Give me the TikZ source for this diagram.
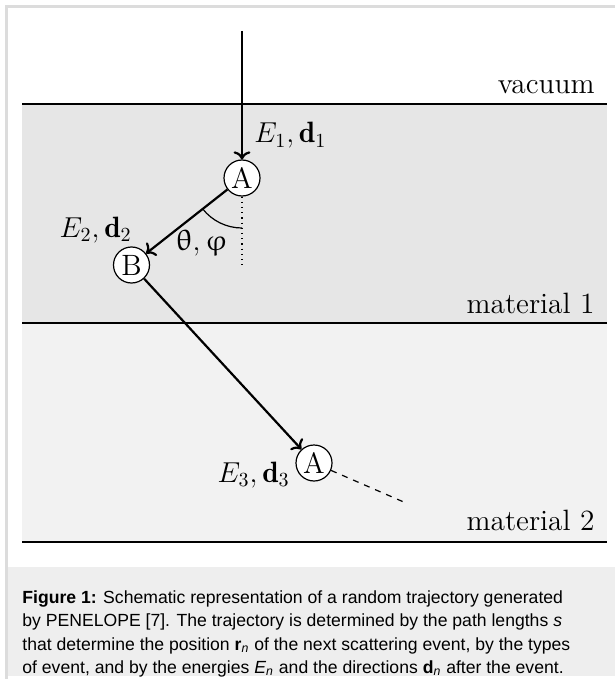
\documentclass[tikz,border=0pt]{standalone}
\usepackage{amsmath,amssymb}
\usepackage{upgreek}
\usepackage{fontspec}
\newfontfamily\capfont{Liberation Sans}
\usetikzlibrary{arrows.meta,positioning,calc}
\definecolor{ink}{HTML}{000000}
\definecolor{frame1}{HTML}{DCDCDC}
\definecolor{grey1}{HTML}{E6E6E6}
\definecolor{grey2}{HTML}{F2F2F2}
\definecolor{grey3}{HTML}{EEEEEE}
\begin{document}
\begin{tikzpicture}[x=0.5pt, y=0.5pt, font=\fontsize{14.7}{17}\selectfont,
  bound/.style={ink, line width=0.75pt},
  event/.style={circle, draw=ink, fill=white, line width=0.6pt, minimum size=18pt, inner sep=0pt},
  traj/.style={->, ink, line width=1.1pt},
  thin/.style={ink, line width=0.6pt},
  lbl/.style={inner sep=0pt}]
  \useasboundingbox (0,0) rectangle (615,-679);
  \draw[frame1, line width=1.2pt] (6.5,-679) -- (6.5,-6.5) -- (615,-6.5);
  \fill[grey1] (22,-104) rectangle (607,-323);
  \fill[grey2] (22,-323) rectangle (607,-542);
  \fill[grey3] (7.8,-567) rectangle (615,-676);
  \draw[bound] (22,-104) -- (607,-104); \draw[bound] (22,-323) -- (607,-323); \draw[bound] (22,-542) -- (607,-542);
  \node[lbl, anchor=base east] (vac) at (595,-94) {vacuum};
  \node[lbl, anchor=base east] (mat1) at (595,-313) {material 1};
  \node[lbl, anchor=base east] (mat2) at (595,-530) {material 2};
  \coordinate (src) at (242,-31);
  \node[event] (A1) at (242,-178) {A};
  \node[event] (B) at (131.5,-265) {B};
  \node[event] (A3) at (314,-463) {A};
  \coordinate (vert) at (242,-267);
  \coordinate (exit) at (406,-503);
  \draw[traj] (src) -- (A1); \draw[traj] (A1) -- (B); \draw[traj] (B) -- (A3);
  \draw[thin, dotted] (A1) -- (vert);
  \draw[thin, dashed] (A3) -- (exit);
  \draw[thin] ([shift={(218.2:25pt)}]A1.center) arc[start angle=218.2, end angle=270, radius=25pt];
  \node[lbl, anchor=base west] (e1) at (254,-143) {$E_1, \mathbf{d}_1$};
  \node[lbl, anchor=base east] (e2) at (132,-237) {$E_2, \mathbf{d}_2$};
  \node[lbl, anchor=base east] (e3) at (290,-482) {$E_3, \mathbf{d}_3$};
  \node[lbl, anchor=base east] (ang) at (228,-250) {$\uptheta, \upvarphi$};
  \node[lbl, anchor=north west, align=left, font=\capfont\fontsize{8.8}{11.75}\selectfont] (cap) at (22,-590)
    {\textbf{Figure 1:} Schematic representation of a random trajectory generated\\
     by PENELOPE [7]. The trajectory is determined by the path lengths \textit{s}\\
     that determine the position \textbf{r}\textsubscript{\textit{n}} of the next scattering event, by the types\\
     of event, and by the energies \textit{E}\textsubscript{\textit{n}} and the directions \textbf{d}\textsubscript{\textit{n}} after the event.};
\end{tikzpicture}
\end{document}
